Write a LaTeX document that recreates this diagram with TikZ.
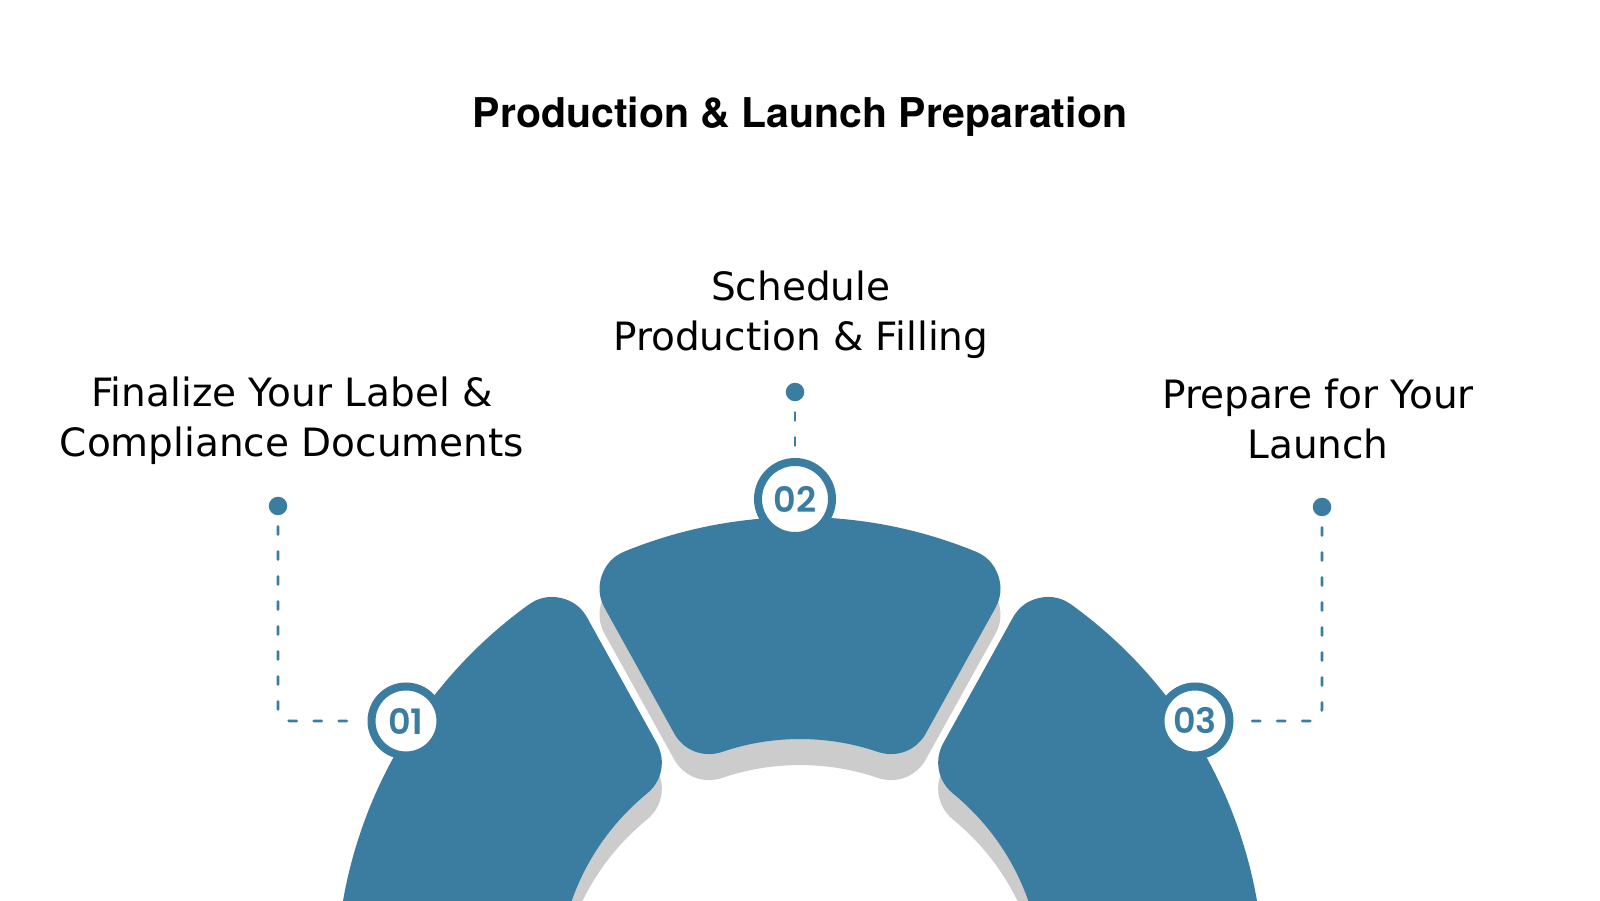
\documentclass[tikz,border=0pt]{standalone}
\usepackage{fontspec}
\newfontfamily\titlefont{TeX Gyre Heros}
\newfontfamily\labelfont{DejaVu Sans}
\newfontfamily\numfont{Poppins SemiBold}
\usetikzlibrary{calc}
\definecolor{segblue}{RGB}{59,125,160}
\definecolor{shadowgray}{RGB}{204,204,204}

\begin{document}
\begin{tikzpicture}[x=1pt,y=1pt,
    seg/.style={line width=80pt, line join=round},
    steptext/.style={font=\labelfont\fontsize{39}{50}\selectfont, align=center, anchor=base},
    badge/.style={circle, draw=segblue, line width=8pt, fill=white, minimum size=69pt, inner sep=0pt,
        text=segblue, font=\numfont\fontsize{35}{35}\selectfont},
    dot/.style={circle, fill=segblue, minimum size=18.5pt, inner sep=0pt},
    link/.style={segblue, line width=2.8pt, line cap=round, dash pattern=on 8pt off 17pt,
        rounded corners=12pt, shorten <=11pt, shorten >=6.5pt}]
    \useasboundingbox (0,0) rectangle (1600,900);
    \fill[white] (0,0) rectangle (1600,900);
    \clip (0,0) rectangle (1600,900);

    % Ring segments: grey shadows first, then the blue pieces
    \pgfmathsetmacro\outcut{asin(50/424)}
    \pgfmathsetmacro\incut{asin(50/282)}
    \foreach \sh/\col in {26/shadowgray, 0/segblue}{
        \foreach \a/\b in {3/61, 61/119, 119/177}{
            \filldraw[seg, \col, shift={(800,-81-\sh)}]
                ({\b-\outcut}:424) arc[start angle={\b-\outcut}, end angle={\a+\outcut}, radius=424]
                -- ({\a+\incut}:282) arc[start angle={\a+\incut}, end angle={\b-\incut}, radius=282]
                -- cycle;
        }
    }

    % Title
    \node[font=\titlefont\bfseries\fontsize{41}{49}\selectfont, anchor=base] (title) at (800,772.5)
        {Production \& Launch Preparation};

    % Step labels (base = last line)
    \node[steptext] (t1) at (292,443) {Finalize Your Label \&\\Compliance Documents};
    \node[steptext] (t2) at (800.8,549.7) {Schedule\\Production \& Filling};
    \node[steptext] (t3) at (1318,441.3) {Prepare for Your\\Launch};

    % Dots and numbered badges
    \node[dot] (d1) at (278,394) {};
    \node[dot] (d2) at (795,508) {};
    \node[dot] (d3) at (1322,393) {};
    \node[badge] (c1) at (406,179) {01};
    \node[badge, minimum size=74pt] (c2) at (795,401) {02};
    \node[badge] (c3) at (1195,179) {03};

    % Dashed leaders
    \draw[link] (d1) |- (c1);
    \draw[link] (d2) -- (c2);
    \draw[link] (d3) |- (c3);
\end{tikzpicture}
\end{document}
